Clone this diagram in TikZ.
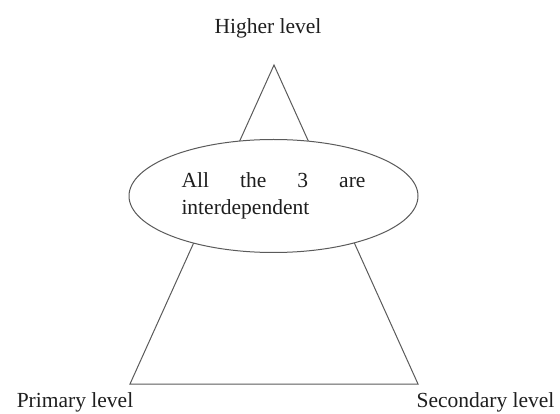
\documentclass[tikz,border=0pt]{standalone}
\usepackage{fontspec}
\setmainfont{Liberation Serif}
\usepackage{tikz}
\usetikzlibrary{shapes.geometric,positioning}
\definecolor{LineGray}{HTML}{5A5A5A}
\definecolor{InkText}{HTML}{1E1E1E}

\begin{document}
\begin{tikzpicture}[x=1pt, y=-1pt, every node/.style={font=\fontsize{21.5}{27.5}\selectfont, text=InkText}, tierlabel/.style={anchor=base, inner sep=0pt}, outline/.style={draw=LineGray, line width=1pt}]
\useasboundingbox (0,0) rectangle (560,414);
\coordinate (top) at (274,65);
\coordinate (left) at (130,384);
\coordinate (right) at (418,384);
\draw[outline] (top) -- (left) -- (right) -- cycle;
\node[ellipse, outline, fill=white, minimum width=289, minimum height=113, inner sep=0pt, text width=184, align=left] (core) at (273.5,196) {All\hfill the\hfill 3\hfill are\\interdependent};
\node[tierlabel] (higher) at (268,34) {Higher level};
\node[tierlabel] (primary) at (75,407) {Primary level};
\node[tierlabel] (secondary) at (485.5,407) {Secondary level};
\end{tikzpicture}
\end{document}
